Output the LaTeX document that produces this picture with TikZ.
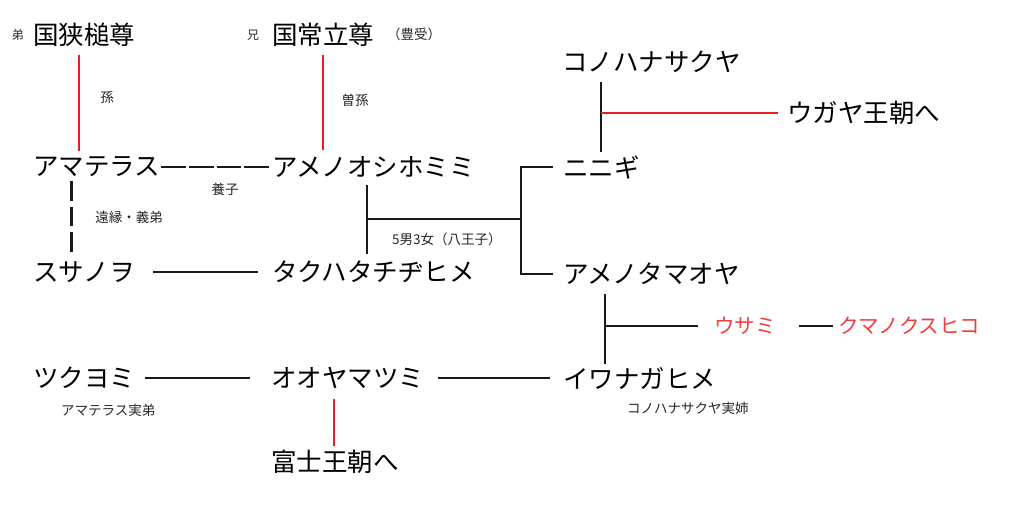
\documentclass[tikz,border=0pt]{standalone}
\usepackage{fontspec}
\newfontfamily\jp{Noto Sans CJK JP}
\usetikzlibrary{calc}
\definecolor{kinred}{RGB}{232,28,36}
\definecolor{redtext}{RGB}{238,62,62}

\begin{document}
\begin{tikzpicture}[x=1pt,y=-1pt,
  person/.style={font=\jp\fontsize{25.5}{28}\selectfont,inner sep=0pt,anchor=west},
  redperson/.style={font=\jp\fontsize{20.5}{23}\selectfont,inner sep=0pt,anchor=west,text=redtext},
  memo/.style={font=\jp\fontsize{13.5}{15}\selectfont,inner sep=0pt,text=black!85},
  tiny/.style={font=\jp\fontsize{12}{13}\selectfont,inner sep=0pt,text=black!85},
  tie/.style={line width=1.8pt,black!90},
  lineage/.style={line width=1.8pt,kinred},
  adopt/.style={line width=3pt,black!90,dash pattern=on 19.5pt off 6pt},
  yousi/.style={line width=2.4pt,black!90,dash pattern=on 24.6pt off 3pt}]
\useasboundingbox (0,0) rectangle (1024,532);

% top row
\node[tiny] (otouto) at (18,35) {弟};
\node[person] (kunisa) at (33,35) {国狭槌尊};
\node[tiny] (ani) at (253,35) {兄};
\node[person] (kunitoko) at (272,35) {国常立尊};
\node[memo,anchor=west] (toyouke) at (387,34) {（豊受）};
\node[memo] (mago) at (107,97) {孫};
\node[memo] (himago) at (355,100) {曽孫};

% Amaterasu / Susanoo
\node[person] (ama) at (33,167) {アマテラス};
\node[person] (oshi) at (272,167) {アメノオシホミミ};
\node[memo] (youshi) at (225,189) {養子};
\node[memo] (enen) at (129,217) {遠縁・義弟};
\node[person] (susa) at (33,272) {スサノヲ};
\node[person] (takuhata) at (272,272) {タクハタチヂヒメ};
\node[memo,anchor=west] (hachi) at (392,239) {5男3女（八王子）};

% right side
\node[person] (kono) at (562,62) {コノハナサクヤ};
\node[person] (ugaya) at (787,113) {ウガヤ王朝へ};
\node[person] (ninigi) at (563,167) {ニニギ};
\node[person] (tamaoya) at (563,274) {アメノタマオヤ};
\node[redperson] (usami) at (714,326) {ウサミ};
\node[redperson] (kuma) at (838,326) {クマノクスヒコ};

% bottom row
\node[person] (tsuku) at (33,378) {ツクヨミ};
\node[memo,anchor=west] (tsukunote) at (61,410) {アマテラス実弟};
\node[person] (ooyama) at (271,378) {オオヤマツミ};
\node[person] (fuji) at (271,462) {富士王朝へ};
\node[person] (iwanaga) at (563,378) {イワナガヒメ};
\node[memo,anchor=west] (iwanote) at (627,408) {コノハナサクヤ実姉};

% red lines of descent
\draw[lineage] ($(kunisa.south west)+(46,8)$) -- ($(kunisa.south west |- ama.north)+(46,-6)$);
\draw[lineage] ($(kunitoko.south west)+(51,8)$) -- ($(kunitoko.south west |- oshi.north)+(51,-6)$);
\draw[lineage] ($(ooyama.south west)+(63,10)$) -- ($(ooyama.south west |- fuji.north)+(63,-4)$);

% Amaterasu -- Oshihomimi, Susanoo
\draw[yousi,shorten <=1pt,shorten >=2pt] (ama.east) -- (ama.east -| oshi.west);
\draw[adopt] ($(ama.south west)+(38,4)$) -- ($(susa.north west)+(38,-4)$);
\draw[tie,shorten <=18pt,shorten >=14pt] (susa.east) -- (susa.east -| takuhata.west);

% children of Oshihomimi
\coordinate (mid) at ($(oshi.south west)!.5!(takuhata.north west)+(95,0)$);
\coordinate (fork) at ($(ninigi.west)!.5!(tamaoya.west)+(-42,0)$);
\draw[tie] ($(oshi.south west)+(95,7)$) -- ($(takuhata.north west)+(95,-7)$);
\draw[tie] (mid) -- (mid -| fork);
\draw[tie] ([xshift=-10pt]ninigi.west) -| (fork) |- ([xshift=-10pt]tamaoya.west);

% Ninigi and Konohanasakuya
\coordinate (kn) at ($(kono.south west)+(39,0)$);
\draw[tie] ($(kn)+(0,9)$) -- ($(kn |- ninigi.north)+(0,-3)$);
\draw[lineage] (kn |- ugaya.west) -- ([xshift=-9pt]ugaya.west);

% Tamaoya and Iwanaga
\coordinate (ti) at ($(tamaoya.south west)+(42,0)$);
\draw[tie] ($(ti)+(0,9)$) -- ($(ti |- iwanaga.north)+(0,-3)$);
\draw[tie] (ti |- usami.west) -- ([xshift=-16pt]usami.west);
\draw[tie,shorten <=23pt,shorten >=5pt] (usami.east) -- (usami.east -| kuma.west);

% Tsukuyomi -- Ooyamatsumi -- Iwanaga
\draw[tie,shorten <=10pt,shorten >=21pt] (tsuku.east) -- (tsuku.east -| ooyama.west);
\draw[tie,shorten <=14pt,shorten >=13pt] (ooyama.east) -- (ooyama.east -| iwanaga.west);
\end{tikzpicture}
\end{document}
